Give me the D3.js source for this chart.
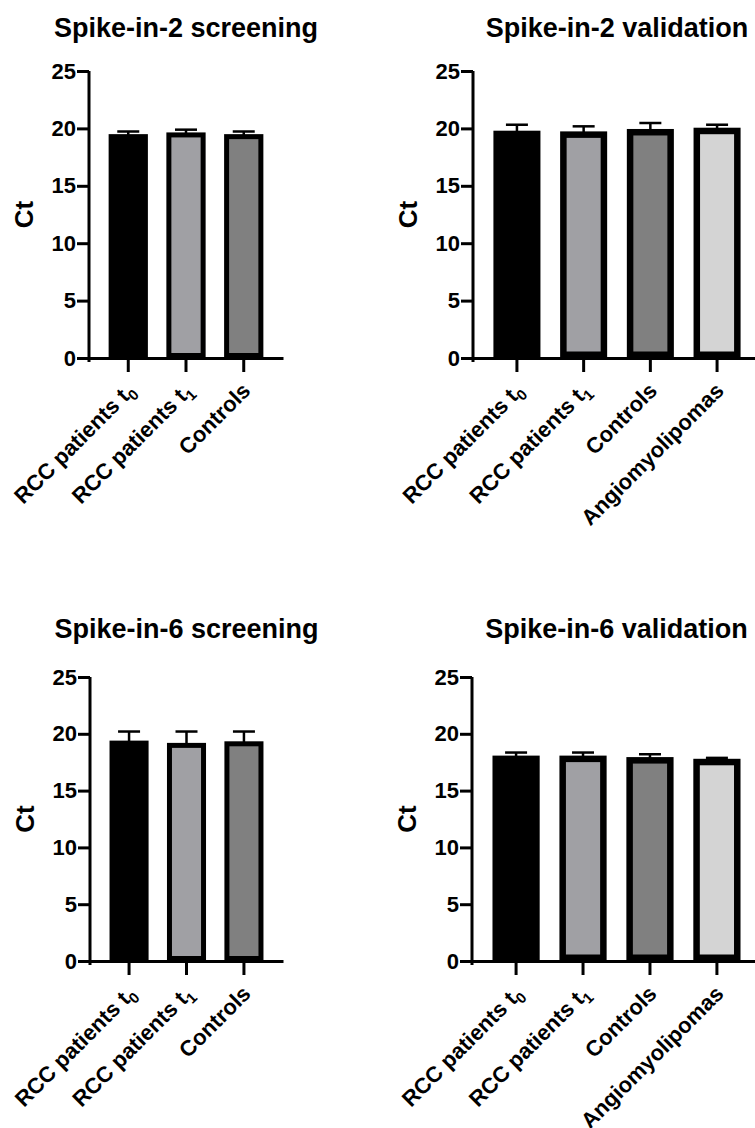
<!DOCTYPE html>
<html>
<head>
<meta charset="utf-8">
<script src="https://d3js.org/d3.v7.min.js"></script>
<style>
  body { margin: 0; background: #fff; }
  text { font-family: "Liberation Sans", Arial, sans-serif; font-weight: bold; fill: #000; }
</style>
</head>
<body>
<script>
// groups on the x axis (the trailing digit of "t0"/"t1" is drawn as a subscript)
const groupsScreening = ["RCC patients t0", "RCC patients t1", "Controls"];
const groupsValidation = ["RCC patients t0", "RCC patients t1", "Controls", "Angiomyolipomas"];
const barColors = ["#000000", "#a0a0a4", "#808080", "#d4d4d4"];
const yTicks = [0, 5, 10, 15, 20, 25];

// mean Ct and upper error (SD)
const spike2ScreeningMean = [19.5, 19.65, 19.5];
const spike2ScreeningErr = [0.23, 0.24, 0.23];
const spike2ValidationMean = [19.8, 19.74, 19.95, 20.06];
const spike2ValidationErr = [0.52, 0.44, 0.52, 0.26];
const spike6ScreeningMean = [19.4, 19.2, 19.34];
const spike6ScreeningErr = [0.8, 1.0, 0.86];
const spike6ValidationMean = [18.08, 18.08, 17.95, 17.8];
const spike6ValidationErr = [0.27, 0.27, 0.25, 0.08];

const width = 755, height = 1128;

const svg = d3.select("body").append("svg")
    .attr("width", width)
    .attr("height", height);

svg.append("rect").attr("width", width).attr("height", height).attr("fill", "#fff");

function drawPanel(p) {
    let g = svg.append("g");

    let x = d3.scaleBand()
        .domain(p.groups)
        .range([p.x0, p.x1])
        .paddingInner(p.padIn)
        .paddingOuter(p.padOut);

    let y = d3.scaleLinear()
        .domain([0, 25])
        .range([p.yBot, p.yTop]);

    let rows = p.groups.map((name, i) => ({ name: name, mean: p.mean[i], err: p.err[i], color: barColors[i] }));

    // bars, border drawn inside the bar outline
    g.selectAll("rect.bar")
        .data(rows)
        .enter()
        .append("rect")
        .attr("class", "bar")
        .attr("x", d => x(d.name) + p.sw / 2)
        .attr("y", d => y(d.mean) + p.sw / 2)
        .attr("width", x.bandwidth() - p.sw)
        .attr("height", d => y(0) - y(d.mean) - p.sw)
        .attr("fill", d => d.color)
        .attr("stroke", "#000")
        .attr("stroke-width", p.sw);

    // error bars (upper half only)
    let eb = g.selectAll("g.err")
        .data(rows)
        .enter()
        .append("g")
        .attr("class", "err");
    eb.append("line")
        .attr("x1", d => x(d.name) + x.bandwidth() / 2)
        .attr("x2", d => x(d.name) + x.bandwidth() / 2)
        .attr("y1", d => y(d.mean) + 2)
        .attr("y2", d => y(d.mean + d.err))
        .attr("stroke", "#000")
        .attr("stroke-width", 2.5);
    eb.append("line")
        .attr("x1", d => x(d.name) + x.bandwidth() / 2 - 11)
        .attr("x2", d => x(d.name) + x.bandwidth() / 2 + 11)
        .attr("y1", d => y(d.mean + d.err))
        .attr("y2", d => y(d.mean + d.err))
        .attr("stroke", "#000")
        .attr("stroke-width", 2.5);

    // y axis
    let ya = g.append("g")
        .attr("transform", "translate(" + p.x0 + ",0)")
        .call(d3.axisLeft(y).tickValues(yTicks).tickSize(12).tickSizeOuter(0).tickPadding(1));
    ya.select(".domain").attr("stroke-width", 3).attr("d", "M0," + (p.yBot + 4) + "V" + p.yTop);
    ya.selectAll(".tick line").attr("stroke-width", 3);
    ya.selectAll(".tick text")
        .attr("font-size", "22px")
        .attr("font-family", "'Liberation Sans', Arial, sans-serif")
        .attr("font-weight", "bold")
        .attr("fill", "#000");

    // x axis
    let xa = g.append("g")
        .attr("transform", "translate(0," + p.yBot + ")")
        .call(d3.axisBottom(x).tickSize(14).tickSizeOuter(0).tickFormat(""));
    xa.select(".domain").attr("stroke-width", 3);
    xa.selectAll(".tick line").attr("stroke-width", 3);

    // rotated group labels
    rows.forEach(d => {
        let cx = x(d.name) + x.bandwidth() / 2;
        let t = g.append("text")
            .attr("transform", "translate(" + (cx + 8) + "," + (p.yBot + 34) + ") rotate(-45)")
            .attr("text-anchor", "end")
            .attr("font-size", "22px");
        let m = d.name.match(/^(.* t)([01])$/);
        if (m) {
            t.append("tspan").text(m[1]);
            t.append("tspan").attr("font-size", "15px").attr("dy", "5").text(m[2]);
        } else {
            t.text(d.name);
        }
    });

    // title
    g.append("text")
        .attr("x", (p.x0 + p.x1) / 2)
        .attr("y", p.titleY)
        .attr("text-anchor", "middle")
        .attr("font-size", "27px")
        .text(p.title);

    // y label
    g.append("text")
        .attr("transform", "translate(" + (p.x0 - 56) + "," + ((p.yTop + p.yBot) / 2) + ") rotate(-90)")
        .attr("text-anchor", "middle")
        .attr("font-size", "26px")
        .text("Ct");
}

drawPanel({ title: "Spike-in-2 screening", groups: groupsScreening, mean: spike2ScreeningMean, err: spike2ScreeningErr,
    x0: 89, x1: 283, yTop: 71, yBot: 358, titleY: 37, padIn: 0.32, padOut: 0.34, sw: 5 });
drawPanel({ title: "Spike-in-2 validation", groups: groupsValidation, mean: spike2ValidationMean, err: spike2ValidationErr,
    x0: 473, x1: 761, yTop: 71, yBot: 358, titleY: 37, padIn: 0.295, padOut: 0.306, sw: 6.5 });
drawPanel({ title: "Spike-in-6 screening", groups: groupsScreening, mean: spike6ScreeningMean, err: spike6ScreeningErr,
    x0: 90, x1: 283, yTop: 677, yBot: 961, titleY: 638, padIn: 0.32, padOut: 0.34, sw: 5 });
drawPanel({ title: "Spike-in-6 validation", groups: groupsValidation, mean: spike6ValidationMean, err: spike6ValidationErr,
    x0: 472, x1: 761, yTop: 677, yBot: 961, titleY: 638, padIn: 0.295, padOut: 0.306, sw: 6.5 });
</script>
</body>
</html>
